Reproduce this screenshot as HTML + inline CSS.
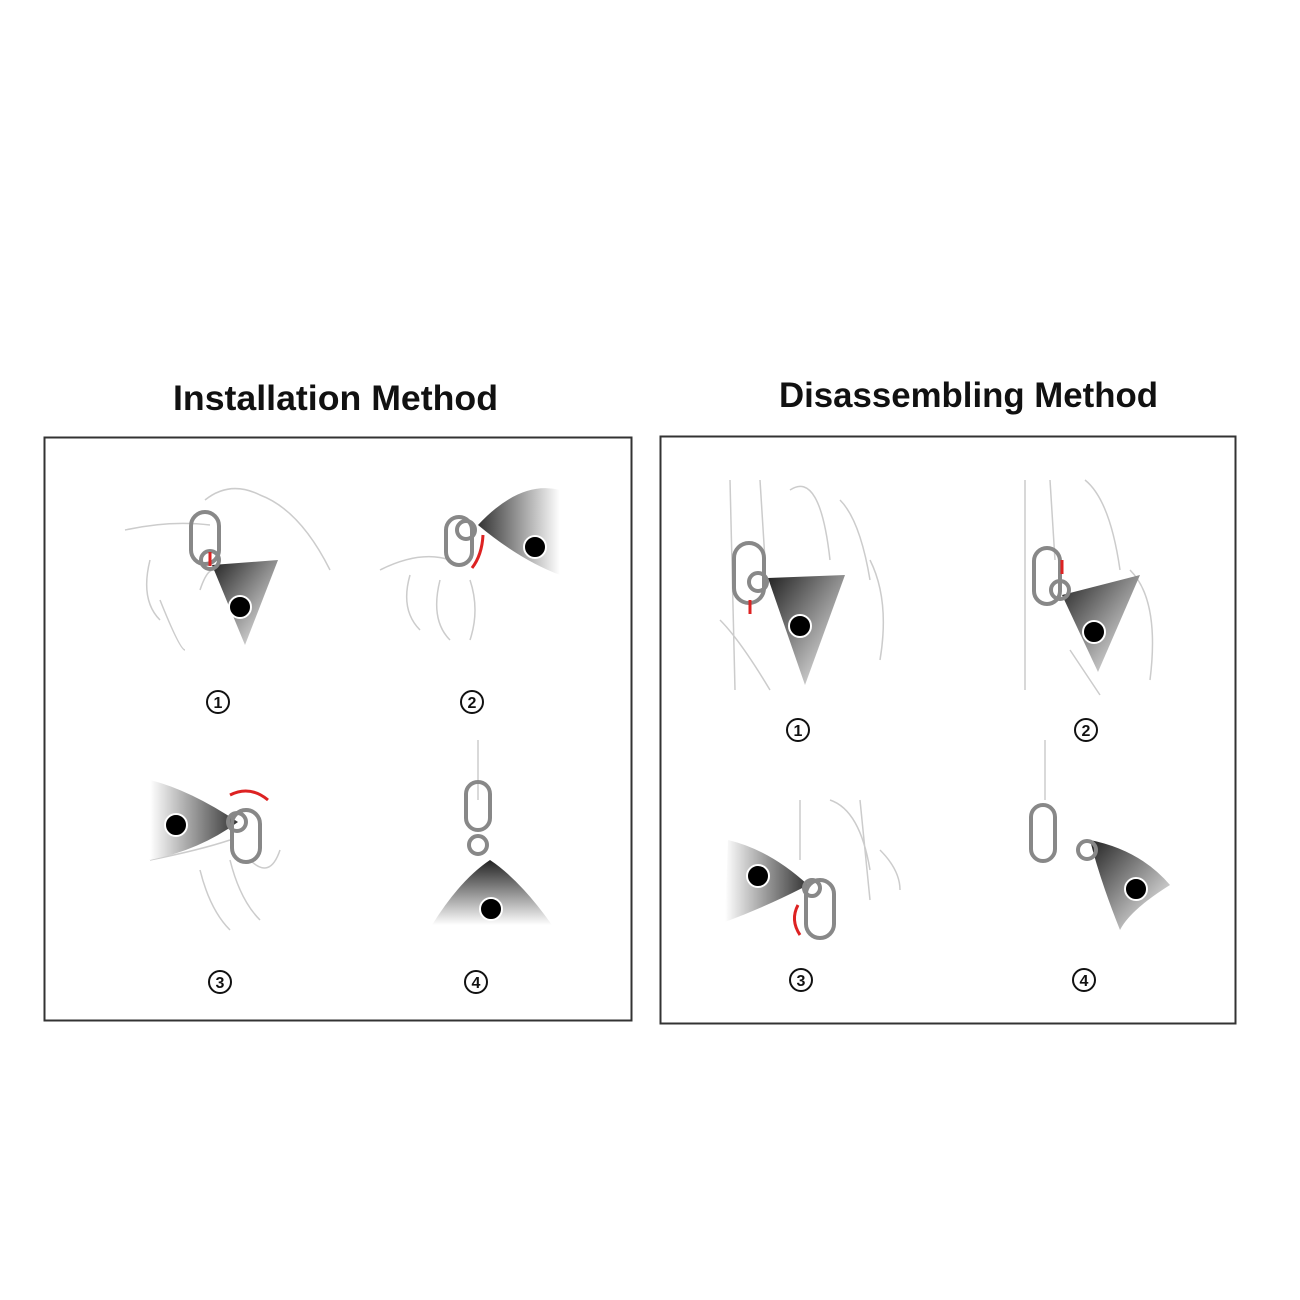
<!DOCTYPE html>
<html><head><style>
body{margin:0;background:#fff;width:1300px;height:1300px;overflow:hidden}
svg{display:block}
</style></head><body>
<svg width="1300" height="1300" viewBox="0 0 1300 1300" xmlns="http://www.w3.org/2000/svg">
<defs>
<linearGradient id="gd" x1="0" y1="0" x2="1" y2="1"><stop offset="0" stop-color="#222"/><stop offset="1" stop-color="#fff"/></linearGradient>
<linearGradient id="gr" x1="1" y1="0" x2="0" y2="0"><stop offset="0" stop-color="#fff"/><stop offset="1" stop-color="#333"/></linearGradient>
<linearGradient id="gl" x1="0" y1="0" x2="1" y2="0"><stop offset="0" stop-color="#fff"/><stop offset="1" stop-color="#333"/></linearGradient>
<linearGradient id="gv" x1="0" y1="0" x2="0" y2="1"><stop offset="0" stop-color="#222"/><stop offset="1" stop-color="#fff"/></linearGradient>
</defs>
<g font-family="Liberation Sans, sans-serif" font-size="35" font-weight="bold" fill="#111">
<text x="173" y="410" textLength="325" lengthAdjust="spacingAndGlyphs">Installation Method</text>
<text x="779" y="407" textLength="379" lengthAdjust="spacingAndGlyphs">Disassembling Method</text>
</g>
<rect x="44.5" y="437.5" width="587" height="583" fill="none" stroke="#333" stroke-width="2"/>
<rect x="660.5" y="436.5" width="575" height="587" fill="none" stroke="#333" stroke-width="2"/>
<g fill="none" stroke="#ccc" stroke-width="1.5">
<path d="M125 530 Q170 520 210 525 M205 500 Q230 480 260 495 Q300 510 330 570 M150 560 Q140 600 160 620 M160 600 Q180 650 185 650 M200 590 Q210 560 220 575"/>
<path d="M380 570 Q420 550 450 560 M410 575 Q400 610 420 630 M440 580 Q430 620 450 640 M470 580 Q480 610 470 640"/>
<path d="M150 860 Q200 850 230 840 M200 870 Q210 910 230 930 M230 860 Q240 900 260 920 M250 860 Q270 880 280 850"/>
<path d="M478 740 L478 800"/>
<path d="M730 480 L735 690 M760 480 L765 560 M790 490 Q820 470 830 560 M840 500 Q860 520 870 580 M870 560 Q890 600 880 660 M720 620 Q740 640 770 690"/>
<path d="M1025 480 L1025 690 M1050 480 L1055 560 M1085 480 Q1110 500 1120 570 M1130 570 Q1160 600 1150 680 M1070 650 Q1090 680 1100 695"/>
<path d="M800 800 L800 860 M830 800 Q860 810 870 870 M860 800 L870 900 M880 850 Q900 870 900 890"/>
<path d="M1045 740 L1045 800"/>
</g>
<g stroke="none">
<path d="M212 565 L278 560 L245 645 Z" fill="url(#gd)"/>
<path d="M478 525 Q520 480 560 490 L560 575 Q520 560 478 525 Z" fill="url(#gr)"/>
<path d="M238 822 Q190 790 150 780 L150 860 Q200 850 238 822 Z" fill="url(#gl)"/>
<path d="M490 860 Q520 880 552 925 L432 925 Q460 880 490 860 Z" fill="url(#gv)"/>
<path d="M768 578 L845 575 L805 685 Z" fill="url(#gd)"/>
<path d="M1062 595 L1140 575 L1098 672 Z" fill="url(#gd)"/>
<path d="M808 885 Q770 850 728 840 L725 922 Q770 905 808 885 Z" fill="url(#gl)"/>
<path d="M1090 840 Q1140 850 1170 885 Q1130 910 1120 930 Q1100 880 1090 840 Z" fill="url(#gd)"/>
</g>
<g fill="#000" stroke="#fff" stroke-width="2">
<circle cx="240" cy="607" r="11"/><circle cx="535" cy="547" r="11"/><circle cx="176" cy="825" r="11"/><circle cx="491" cy="909" r="11"/>
<circle cx="800" cy="626" r="11"/><circle cx="1094" cy="632" r="11"/><circle cx="758" cy="876" r="11"/><circle cx="1136" cy="889" r="11"/>
</g>
<g fill="none" stroke="#888" stroke-width="4">
<rect x="191" y="512" width="28" height="52" rx="14"/><circle cx="210" cy="560" r="9"/>
<rect x="446" y="517" width="26" height="48" rx="13"/><circle cx="466" cy="530" r="9"/>
<rect x="232" y="810" width="28" height="52" rx="14"/><circle cx="237" cy="822" r="9"/>
<rect x="466" y="782" width="24" height="48" rx="12"/><circle cx="478" cy="845" r="9"/>
<rect x="734" y="543" width="30" height="60" rx="15"/><circle cx="758" cy="582" r="9"/>
<rect x="1034" y="548" width="26" height="56" rx="13"/><circle cx="1060" cy="590" r="9"/>
<rect x="806" y="880" width="28" height="58" rx="14"/><circle cx="812" cy="888" r="8"/>
<rect x="1031" y="805" width="24" height="56" rx="12"/><circle cx="1087" cy="850" r="9"/>
</g>
<g fill="none" stroke="#d22" stroke-width="3">
<path d="M210 552 L210 566"/><path d="M483 535 Q482 555 472 568"/>
<path d="M230 795 Q250 785 268 800"/><path d="M750 600 L750 614"/>
<path d="M1062 560 L1062 574"/><path d="M798 905 Q790 920 800 935"/>
</g>
<g fill="none" stroke="#111" stroke-width="2">
<circle cx="218" cy="702" r="11"/><circle cx="472" cy="702" r="11"/><circle cx="220" cy="982" r="11"/><circle cx="476" cy="982" r="11"/>
<circle cx="798" cy="730" r="11"/><circle cx="1086" cy="730" r="11"/><circle cx="801" cy="980" r="11"/><circle cx="1084" cy="980" r="11"/>
</g>
<g font-family="Liberation Sans, sans-serif" font-size="16" font-weight="bold" fill="#111" text-anchor="middle">
<text x="218" y="708">1</text><text x="472" y="708">2</text><text x="220" y="988">3</text><text x="476" y="988">4</text>
<text x="798" y="736">1</text><text x="1086" y="736">2</text><text x="801" y="986">3</text><text x="1084" y="986">4</text>
</g>
</svg>
</body></html>
